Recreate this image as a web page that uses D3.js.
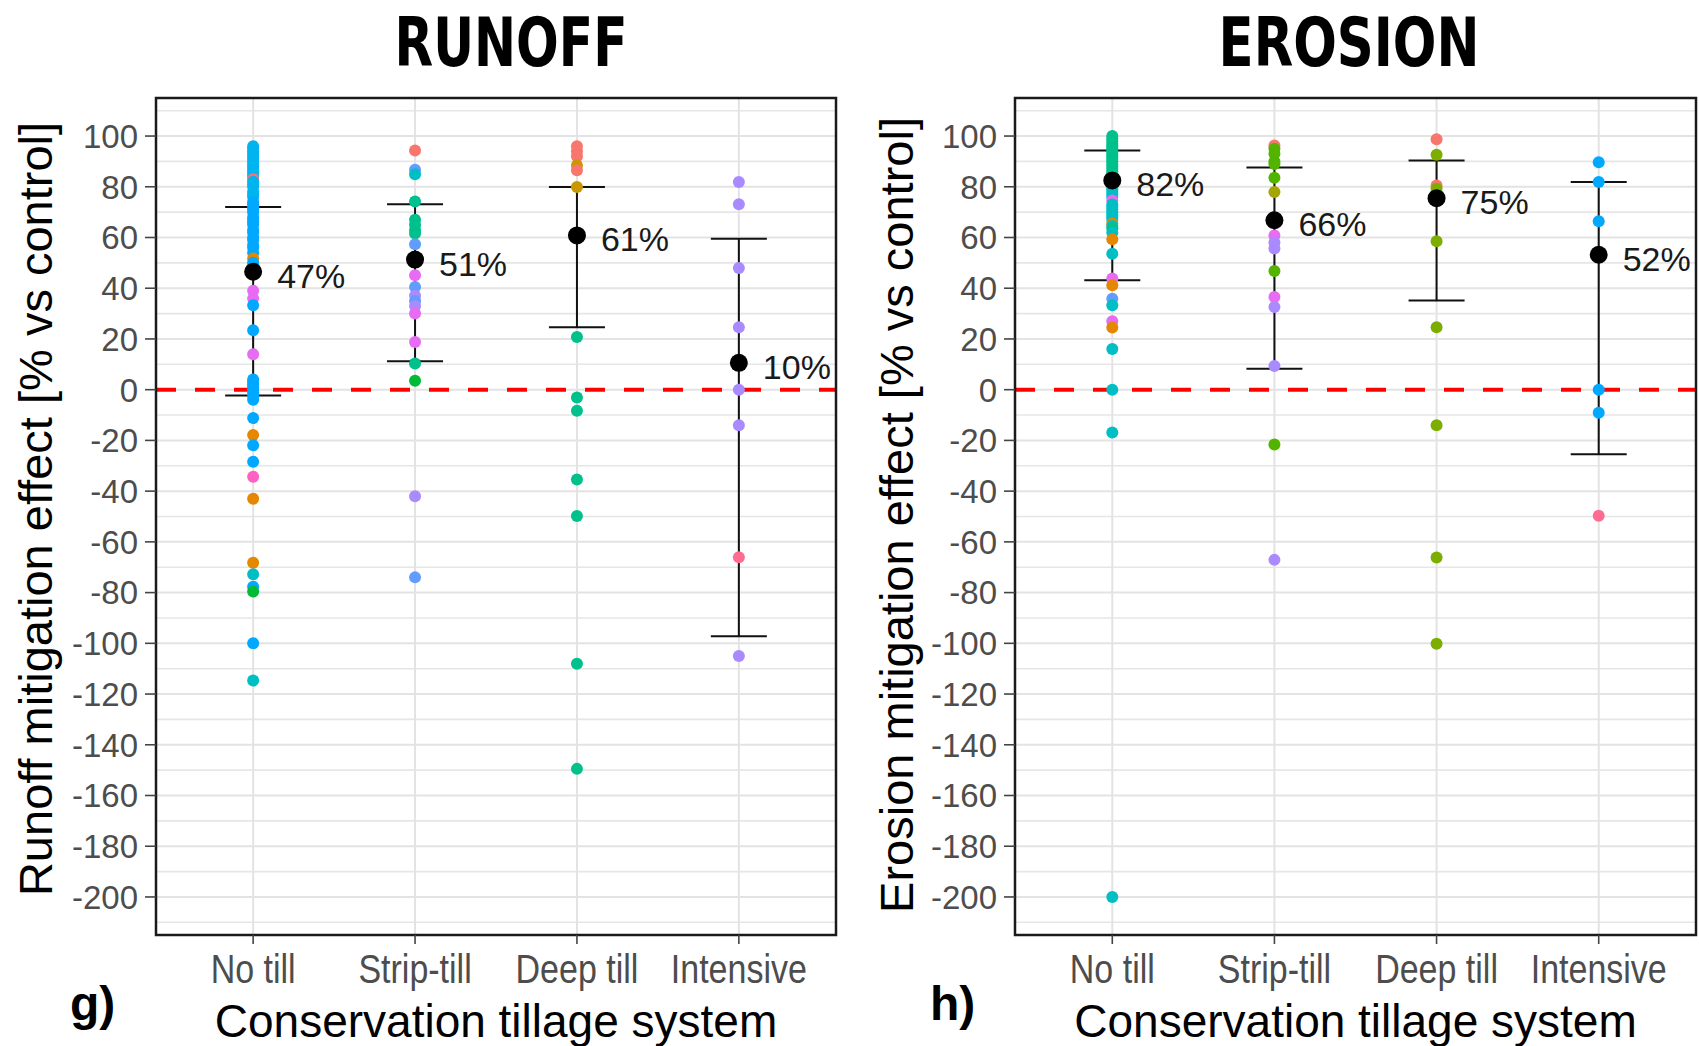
<!DOCTYPE html>
<html>
<head>
<meta charset="utf-8">
<script src="https://cdn.jsdelivr.net/npm/d3@7"></script>
<style>
  html, body { margin: 0; padding: 0; background: #fff; }
  svg { display: block; }
  text { font-family: "Liberation Sans", Arial, sans-serif; }
</style>
</head>
<body>
<svg id="chart" width="1699" height="1046"></svg>
<script>
// ---------------- DATA ----------------
const categories = ["No till", "Strip-till", "Deep till", "Intensive"];
const yTickValues = [100, 80, 60, 40, 20, 0, -20, -40, -60, -80, -100, -120, -140, -160, -180, -200];

// study groups -> colours (ggplot hue palette)
const studyKeys   = ["A", "B", "C", "D", "E", "F", "G", "H", "I", "J", "K", "L", "M", "N", "O", "P"];
const studyColors = ["#F8766D", "#E58700", "#C99800", "#A3A500", "#7CAE00", "#00BA38", "#00C08B", "#00BFC4",
                     "#00B4EF", "#00A9FF", "#619CFF", "#A98AFF", "#E76BF3", "#FF61C3", "#FF6C91", "#53B400"];

// RUNOFF points: [value, study]
const runoffNoTill = [
  [96,"I"],[95,"I"],[94,"I"],[93,"I"],[92,"I"],[91,"I"],[90,"I"],[89,"I"],[88,"I"],[87,"I"],[86,"I"],[85,"I"],
  [84,"I"],[83,"A"],[82,"I"],[81,"I"],[80,"I"],[78,"I"],[77,"I"],[76,"I"],[74,"J"],[73,"J"],[72,"J"],[71,"J"],
  [70,"J"],[68,"J"],[67,"J"],[66,"J"],[65,"J"],[63,"J"],[62,"J"],[60,"J"],[59,"J"],[57,"J"],[56,"J"],[54,"J"],
  [51.7,"B"],[50,"J"],[49,"J"],[39,"M"],[36,"M"],[33.3,"J"],[23.4,"J"],[14,"M"],
  [4,"J"],[3,"J"],[2,"J"],[1,"J"],[0,"J"],[-1,"J"],[-2.5,"J"],[-4,"J"],[-11.2,"J"],[-17.9,"B"],[-21.9,"J"],
  [-28.4,"J"],[-34.3,"N"],[-43,"B"],[-68.2,"B"],[-72.8,"H"],[-77.7,"J"],[-79.6,"F"],[-100,"J"],[-114.7,"H"]
];
const runoffStripTill = [
  [94.3,"A"],[86.7,"K"],[84.9,"H"],[74.2,"G"],[67,"G"],[65,"G"],[63,"G"],[61.6,"G"],[57.3,"K"],[45.1,"M"],
  [40.5,"K"],[37,"L"],[35,"K"],[33,"L"],[30,"M"],[18.8,"M"],[10.3,"G"],[3.5,"F"],[-42,"L"],[-74,"K"]
];
const runoffDeepTill = [
  [96,"A"],[94,"A"],[92,"A"],[88.4,"C"],[86.5,"A"],[79.9,"C"],[20.8,"G"],[-3.1,"G"],[-8.3,"G"],
  [-35.4,"G"],[-49.8,"G"],[-108.1,"G"],[-149.5,"G"]
];
const runoffIntensive = [
  [81.9,"L"],[73.1,"L"],[48,"L"],[24.6,"L"],[0,"L"],[-14,"L"],[-66.1,"O"],[-105,"L"]
];
const runoffMeans  = [46.5, 51.3, 60.8, 10.6];
const runoffLow    = [-2.3, 11.2, 24.6, -97.2];
const runoffHigh   = [72.0, 73.1, 79.9, 59.5];
const runoffLabels = ["47%", "51%", "61%", "10%"];

// EROSION points: [value, study]
const erosionNoTill = [
  [100,"G"],[99,"G"],[98,"G"],[97,"G"],[96,"G"],[95,"G"],[94,"G"],[93,"G"],[92,"G"],[91,"G"],[90,"G"],[89,"G"],
  [88,"G"],[87,"G"],[86,"G"],[85,"G"],[84,"H"],[83,"H"],[81,"H"],[80,"H"],[79,"H"],[78,"H"],[77,"H"],[76,"H"],
  [74.6,"M"],[73,"H"],[72,"H"],[71,"H"],[70,"H"],[69,"H"],[68,"H"],[67,"H"],[65.5,"B"],[64.5,"H"],[63.6,"G"],
  [62,"H"],[59.3,"B"],[53.6,"H"],[43.8,"M"],[41.2,"B"],[35.9,"K"],[33.3,"H"],[27,"M"],[24.5,"B"],[16,"H"],
  [0,"H"],[-16.9,"H"],[-200,"H"]
];
const erosionStripTill = [
  [96.3,"A"],[95,"P"],[93,"P"],[90,"P"],[89,"P"],[83.6,"P"],[77.9,"D"],[60.8,"M"],[58,"L"],[55.7,"L"],
  [46.8,"P"],[36.5,"M"],[32.6,"L"],[9.3,"L"],[-21.6,"P"],[-67.1,"L"]
];
const erosionDeepTill = [
  [98.7,"A"],[92.6,"E"],[80.5,"A"],[79.2,"E"],[58.5,"E"],[24.6,"E"],[-14,"E"],[-66.2,"E"],[-100.2,"E"]
];
const erosionIntensive = [
  [89.7,"J"],[81.9,"J"],[66.4,"J"],[0,"J"],[-9.1,"J"],[-49.7,"O"]
];
const erosionMeans  = [82.5, 66.8, 75.5, 53.2];
const erosionLow    = [43.1, 8.3, 35.2, -25.5];
const erosionHigh   = [94.3, 87.6, 90.4, 81.9];
const erosionLabels = ["82%", "66%", "75%", "52%"];

// ---------------- DRAW ----------------
const svg = d3.select("#chart");
const colour = d3.scaleOrdinal().domain(studyKeys).range(studyColors);
const plotTop = 98, plotBottom = 935;
const y = d3.scaleLinear().domain([-215, 115]).range([plotBottom, plotTop]);

function panel(opts) {
  const { x0, x1, title, titleX, titleLen, yTitle, yTitleX, yTitleY, letter, letterX, series, means, low, high, labels } = opts;
  const x = d3.scalePoint().domain(categories).range([x0, x1]).padding(0.6);
  const g = svg.append("g");

  const clipId = "clip" + Math.round(x0);
  svg.append("clipPath").attr("id", clipId).append("rect")
    .attr("x", x0).attr("y", plotTop).attr("width", x1 - x0).attr("height", plotBottom - plotTop);

  const plot = g.append("g").attr("clip-path", `url(#${clipId})`);

  // minor gridlines
  const minor = d3.range(-210, 115, 20);
  plot.selectAll(".minor").data(minor).join("line")
    .attr("x1", x0).attr("x2", x1).attr("y1", d => y(d)).attr("y2", d => y(d))
    .attr("stroke", "#E6E6E6").attr("stroke-width", 1.6);
  // major gridlines
  plot.selectAll(".major").data(yTickValues).join("line")
    .attr("x1", x0).attr("x2", x1).attr("y1", d => y(d)).attr("y2", d => y(d))
    .attr("stroke", "#E3E3E3").attr("stroke-width", 2);
  plot.selectAll(".vmajor").data(categories).join("line")
    .attr("x1", d => x(d)).attr("x2", d => x(d)).attr("y1", plotTop).attr("y2", plotBottom)
    .attr("stroke", "#E3E3E3").attr("stroke-width", 2);

  // zero line
  plot.append("line")
    .attr("x1", x0).attr("x2", x1).attr("y1", y(0)).attr("y2", y(0))
    .attr("stroke", "#FF0000").attr("stroke-width", 4).attr("stroke-dasharray", "20,19");

  // error bars
  categories.forEach((c, i) => {
    const cx = x(c);
    plot.append("line").attr("x1", cx).attr("x2", cx).attr("y1", y(low[i])).attr("y2", y(high[i]))
      .attr("stroke", "#111").attr("stroke-width", 2);
    [low[i], high[i]].forEach(v => {
      plot.append("line").attr("x1", cx - 28).attr("x2", cx + 28).attr("y1", y(v)).attr("y2", y(v))
        .attr("stroke", "#111").attr("stroke-width", 2);
    });
  });

  // points
  categories.forEach((c, i) => {
    plot.append("g").selectAll("circle").data(series[i]).join("circle")
      .attr("cx", x(c)).attr("cy", d => y(d[0])).attr("r", 6)
      .attr("fill", d => colour(d[1]));
  });

  // means + labels
  categories.forEach((c, i) => {
    plot.append("circle").attr("cx", x(c)).attr("cy", y(means[i])).attr("r", 9).attr("fill", "#000");
    g.append("text").attr("x", x(c) + 24).attr("y", y(means[i]) + 16)
      .attr("font-size", 34).attr("fill", "#1A1A1A").text(labels[i]);
  });

  // border
  g.append("rect").attr("x", x0).attr("y", plotTop).attr("width", x1 - x0).attr("height", plotBottom - plotTop)
    .attr("fill", "none").attr("stroke", "#1A1A1A").attr("stroke-width", 2.5);

  // y ticks
  g.selectAll(".yt").data(yTickValues).join("line")
    .attr("x1", x0 - 11).attr("x2", x0).attr("y1", d => y(d)).attr("y2", d => y(d))
    .attr("stroke", "#444").attr("stroke-width", 1.6);
  g.selectAll(".yl").data(yTickValues).join("text")
    .attr("x", x0 - 18).attr("y", d => y(d)).attr("dy", "0.36em")
    .attr("text-anchor", "end").attr("font-size", 33).attr("fill", "#4D4D4D")
    .text(d => d);

  // x ticks
  g.selectAll(".xt").data(categories).join("line")
    .attr("x1", d => x(d)).attr("x2", d => x(d)).attr("y1", plotBottom).attr("y2", plotBottom + 9)
    .attr("stroke", "#444").attr("stroke-width", 1.6);
  g.selectAll(".xl").data(categories).join("text")
    .attr("transform", d => `translate(${x(d)},983) scale(1,1.2)`)
    .attr("text-anchor", "middle").attr("font-size", 34).attr("fill", "#4D4D4D")
    .text(d => d);

  // x title
  g.append("text").attr("x", (x0 + x1) / 2).attr("y", 1037)
    .attr("text-anchor", "middle").attr("font-size", 46).attr("fill", "#000")
    .text("Conservation tillage system");

  // y title
  g.append("text").attr("transform", `translate(${yTitleX},${yTitleY}) rotate(-90)`)
    .attr("text-anchor", "middle").attr("font-size", 47).attr("fill", "#000")
    .text(yTitle);

  // panel letter
  g.append("text").attr("x", letterX).attr("y", 1020)
    .attr("font-size", 48).attr("font-weight", "bold").attr("fill", "#000").text(letter);

  // title (condensed by horizontal scaling)
  const t = g.append("text").attr("x", 0).attr("y", 0)
    .attr("text-anchor", "middle").attr("font-size", 67).attr("font-weight", "bold")
    .style("font-family", "'DejaVu Sans Condensed', 'Liberation Sans Narrow', 'Liberation Sans', sans-serif")
    .attr("fill", "#000").text(title);
  const natural = t.node().getComputedTextLength() || titleLen;
  t.attr("transform", `translate(${titleX},66) scale(${titleLen / natural},1)`);
}

panel({
  x0: 156, x1: 836, title: "RUNOFF", titleX: 511, titleLen: 233,
  yTitle: "Runoff mitigation effect [% vs control]", yTitleX: 52, yTitleY: 509,
  letter: "g)", letterX: 70,
  series: [runoffNoTill, runoffStripTill, runoffDeepTill, runoffIntensive],
  means: runoffMeans, low: runoffLow, high: runoffHigh, labels: runoffLabels
});
panel({
  x0: 1015, x1: 1696, title: "EROSION", titleX: 1349, titleLen: 261,
  yTitle: "Erosion mitigation effect [% vs control]", yTitleX: 913, yTitleY: 515,
  letter: "h)", letterX: 930,
  series: [erosionNoTill, erosionStripTill, erosionDeepTill, erosionIntensive],
  means: erosionMeans, low: erosionLow, high: erosionHigh, labels: erosionLabels
});
</script>
</body>
</html>
